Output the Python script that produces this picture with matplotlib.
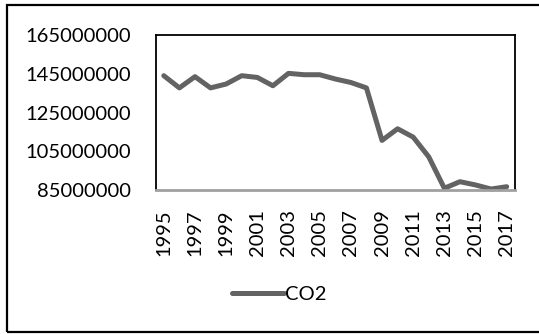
import matplotlib
matplotlib.use("Agg")
import matplotlib.pyplot as plt
from matplotlib.patches import Rectangle

years = [str(y) for y in range(1995, 2018)]
co2 = [144.0e6, 137.7e6, 143.5e6, 137.7e6, 139.7e6, 144.0e6, 143.1e6, 138.8e6,
       145.2e6, 144.5e6, 144.5e6, 142.3e6, 140.5e6, 137.7e6, 110.6e6, 116.6e6,
       112.3e6, 102.1e6, 85.9e6, 89.3e6, 87.6e6, 85.5e6, 86.7e6]
y_ticks = [85000000, 105000000, 125000000, 145000000, 165000000]

plt.rcParams['font.family'] = ['Lato', 'DejaVu Sans']

W, H = 539, 334
fig = plt.figure(figsize=(W / 100, H / 100), dpi=100)

# outer chart frame (right edge runs off the canvas)
fig.patches.append(Rectangle((6.5 / W, 1 - 332 / H), 540 / W, (332 - 5) / H,
                             transform=fig.transFigure, fill=False,
                             edgecolor='black', linewidth=1.6))

left, right, top, bottom = 156, 514.5, 35, 190
ax = fig.add_axes([left / W, 1 - bottom / H, (right - left) / W, (bottom - top) / H])

x = list(range(len(years)))
line, = ax.plot(x, co2, color='#636363', linewidth=3.6, solid_joinstyle='round',
                solid_capstyle='round', label='CO2', clip_on=False)

ax.set_xlim(-0.5, len(years) - 0.5)
ax.set_ylim(85000000, 165000000)
ax.set_yticks(y_ticks)
ax.set_yticklabels([str(v) for v in y_ticks], fontsize=14.5)
ax.set_xticks(x[::2])
ax.set_xticklabels(years[::2], rotation=90, fontsize=14.5)
ax.tick_params(length=0)
ax.tick_params(axis='y', pad=18)
ax.tick_params(axis='x', pad=14)

for side in ('left', 'top', 'right'):
    ax.spines[side].set_color('black')
    ax.spines[side].set_linewidth(1.3)
ax.spines['bottom'].set_color('#a0a0a0')
ax.spines['bottom'].set_linewidth(2.0)

fig.legend(handles=[line], loc='center', bbox_to_anchor=(279 / W, 1 - 294 / H),
           frameon=False, fontsize=14.5, handlelength=2.6, handletextpad=0.05)

fig.savefig('out.png', dpi=100)
